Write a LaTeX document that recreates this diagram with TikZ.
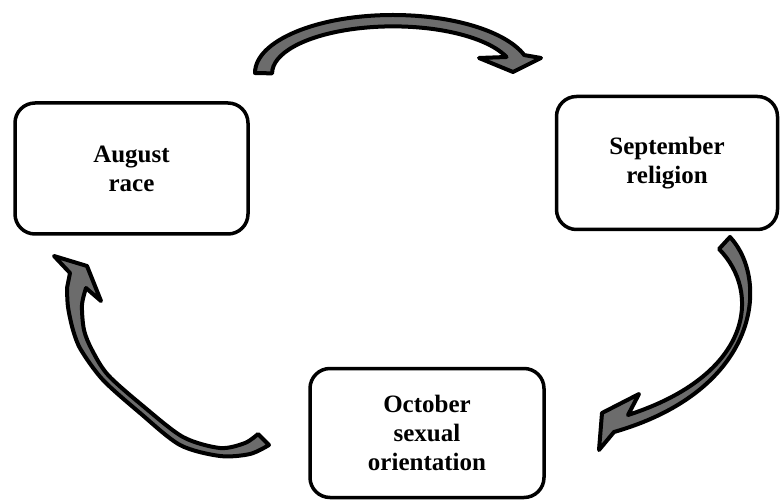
\documentclass[tikz,border=0pt]{standalone}
\usepackage{fontspec}
\setmainfont{Liberation Serif}
\usepackage{tikz}

\definecolor{arrowgray}{RGB}{108,108,108}

\begin{document}
\begin{tikzpicture}[x=1pt,y=-1pt,
    monthbox/.style={draw,line width=3.5pt,rounded corners=20pt,align=center,
      inner sep=0pt,font=\bfseries\fontsize{25}{29}\selectfont},
    cyclearrow/.style={draw=black,fill=arrowgray,line width=4pt,line join=round}]
    \useasboundingbox (0,0) rectangle (781,502);

    % Months
    \node[monthbox,minimum width=233pt,minimum height=131pt] (august) at (131.5,168.5) {August\\race};
    \node[monthbox,minimum width=221pt,minimum height=133pt] (september) at (667,163) {September\\religion};
    \node[monthbox,minimum width=234pt,minimum height=129pt] (october) at (427,433) {October\\sexual\\orientation};

    % August to September
    \filldraw[cyclearrow] (255,73) arc[start angle=180,end angle=342,x radius=138,y radius=58]
        -- (541,58) -- (513,72) -- (479,58) -- (506.5,57)
        arc[start angle=339.6,end angle=180,x radius=121,y radius=47] -- cycle;

    % September to October
    \filldraw[cyclearrow] (719,249) -- (730,237) .. controls (770,280) and (760,390) .. (614,432)
        -- (599,450) -- (602,413) -- (639,394) -- (628,415)
        .. controls (752,375) and (762,293) .. (719,249) -- cycle;

    % October to August
    \filldraw[cyclearrow] (258,434) -- (269,445)
        -- plot[smooth] coordinates {(269,445) (250,454) (220,456) (180,445) (140,413) (103,380) (81,350) (73,330) (68,307) (67,288)}
        -- (70,273) -- (54,256) -- (87,266) -- (101,301) -- (86,288)
        -- plot[smooth] coordinates {(86,288) (82,305) (84,330) (92,350) (108,375) (143,406) (183,437) (220,448) (245,443) (258,434)}
        -- cycle;
\end{tikzpicture}
\end{document}
